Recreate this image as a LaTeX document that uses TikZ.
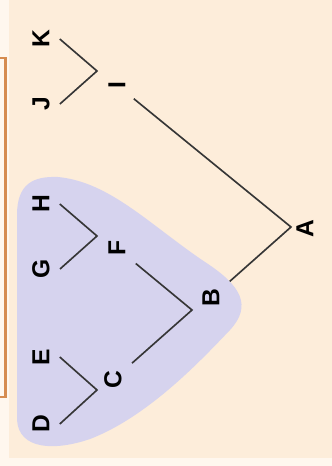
\documentclass[tikz,border=0pt]{standalone}
\usepackage{fontspec}
\setmainfont{Liberation Sans}
\definecolor{cream}{HTML}{FDEDDA}
\definecolor{paper}{HTML}{FFF7EE}
\definecolor{clade}{HTML}{D6D3EE}
\definecolor{bracket}{HTML}{D68C50}
\definecolor{branch}{HTML}{363636}
\begin{document}
\begin{tikzpicture}[x=0.03cm, y=-0.03cm,
    taxon/.style={rotate=90, inner sep=8.6pt, font=\fontsize{21}{25}\selectfont\bfseries},
    edge/.style={draw=branch, line width=1.4pt}]
    \useasboundingbox (0,0) rectangle (332,466);
    % Background
    \fill[paper] (0,0) rectangle (332,466);
    \fill[cream] (9,0) rectangle (332,458);

    % Shaded clade
    \fill[clade] (17,215) .. controls (17,184) and (33,176) .. (58,177)
        .. controls (110,182) and (150,225) .. (205,262)
        .. controls (242,286) and (252,306) .. (230,330)
        .. controls (205,356) and (150,416) .. (90,439)
        .. controls (55,451) and (19,450) .. (17,420) -- cycle;

    % Bracket
    \draw[bracket, line width=2.2pt] (0,58) -- (5.5,58) -- (5.5,397) -- (0,397);

    % Leaves
    \node[taxon] (K) at (41,39) {K};
    \node[taxon] (J) at (41,104) {J};
    \node[taxon] (H) at (41,204) {H};
    \node[taxon] (G) at (41,269) {G};
    \node[taxon] (E) at (41,357) {E};
    \node[taxon] (D) at (41,424) {D};

    % Internal nodes
    \node[taxon] (I) at (117,85) {I};
    \node[taxon] (F) at (117,248) {F};
    \node[taxon] (C) at (113,380) {C};
    \node[taxon] (B) at (211,298) {B};
    \node[taxon] (A) at (305,229) {A};

    % Junctions
    \coordinate (jI) at (97,71);
    \coordinate (jF) at (97,236);
    \coordinate (jC) at (97,390);
    \coordinate (jB) at (192,310);
    \coordinate (jA) at (291,227);

    % Branches
    \draw[edge] (K.south) -- (jI) -- (J.south);
    \draw[edge] (H.south) -- (jF) -- (G.south);
    \draw[edge] (E.south) -- (jC) -- (D.south);
    \draw[edge] (F) -- (jB) -- (C);
    \draw[edge] (I) -- (jA) -- (B);
\end{tikzpicture}
\end{document}
